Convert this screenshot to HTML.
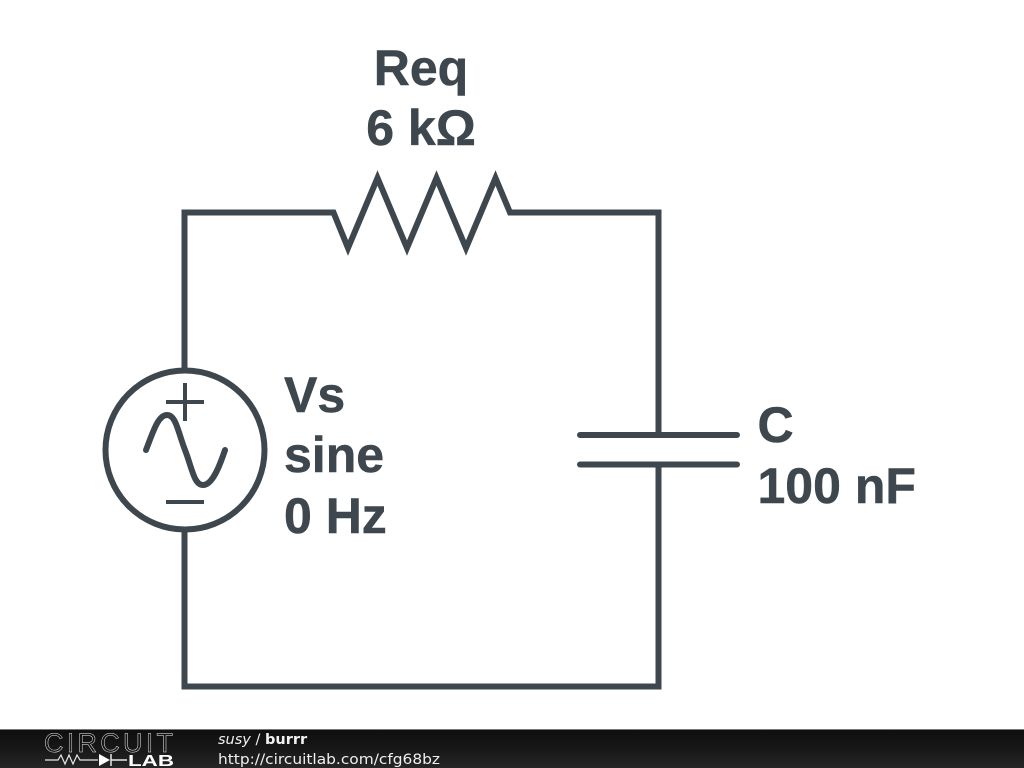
<!DOCTYPE html>
<html><head><meta charset="utf-8"><style>
html,body{margin:0;padding:0;width:1024px;height:768px;overflow:hidden;background:#fff}
svg{display:block}
</style></head><body>
<svg width="1024" height="768" viewBox="0 0 1024 768" xmlns="http://www.w3.org/2000/svg">
<defs><linearGradient id="g" x1="0" y1="0" x2="0" y2="1"><stop offset="0" stop-color="#0e0e0e"/><stop offset="0.5" stop-color="#171717"/><stop offset="1" stop-color="#262626"/></linearGradient></defs>
<rect width="1024" height="768" fill="#fff"/>
<g fill="none" stroke="#3d474d" stroke-width="6" stroke-linejoin="miter" stroke-linecap="butt">
<path d="M184.500 368V212.500H333.500L348 248L377.500 178L407 248L436.500 178L466 248L495.500 178L510 212.500H658.500V435"/>
<path d="M658.500 464V686.500H184.500V532"/>
<circle cx="185" cy="450" r="79.500"/>
<path d="M166 402H204M185 383V421M166 502H204" stroke-width="4"/>
<path d="M146 450C153 432 158 415 167 415C176 415 178 432 185 450C192 468 194 485 203 485C212 485 219 468 225 450" stroke-linecap="round"/>
<path d="M580 435H737M580 464.500H737" stroke-linecap="round"/>
</g>
<g font-family="'Liberation Sans',sans-serif" font-weight="700" font-size="50" fill="#3d474d" stroke="#3d474d" stroke-width="0.500">
<text x="421" y="85" text-anchor="middle">Req</text>
<text x="421" y="145" text-anchor="middle">6 kΩ</text>
<text x="284" y="412">Vs</text>
<text x="284" y="472">sine</text>
<text x="284" y="533">0 Hz</text>
<text x="757.500" y="442">C</text>
<text x="757.500" y="503">100 nF</text>
</g>
<rect y="729" width="1024" height="39" fill="url(#g)"/>
<rect y="729" width="1024" height="1" fill="#777"/>
<text x="44" y="752" font-family="'Liberation Sans',sans-serif" font-size="27" fill="none" stroke="#e8e8e8" stroke-width="0.500" textLength="129" lengthAdjust="spacing">CIRCUIT</text>
<path d="M45 760H58L61 755L65 764L69 755L73 764L77 755L80 760H98" fill="none" stroke="#e8e8e8" stroke-width="1.200"/>
<path d="M99 754V766L110 760Z" fill="#fff"/>
<path d="M111 754V766M111 760H127" fill="none" stroke="#e8e8e8" stroke-width="1.500"/>
<text x="128" y="766" font-family="'Liberation Sans',sans-serif" font-size="16" font-weight="700" fill="#fff" textLength="46" lengthAdjust="spacingAndGlyphs">LAB</text>
<g font-family="'DejaVu Sans',sans-serif" font-size="14.500" fill="#f0f0f0">
<text x="218" y="744"><tspan font-style="italic">susy</tspan> / <tspan font-weight="700">burrr</tspan></text>
<text x="218" y="764" textLength="222" lengthAdjust="spacingAndGlyphs">http://circuitlab.com/cfg68bz</text>
</g>
</svg>
</body></html>
